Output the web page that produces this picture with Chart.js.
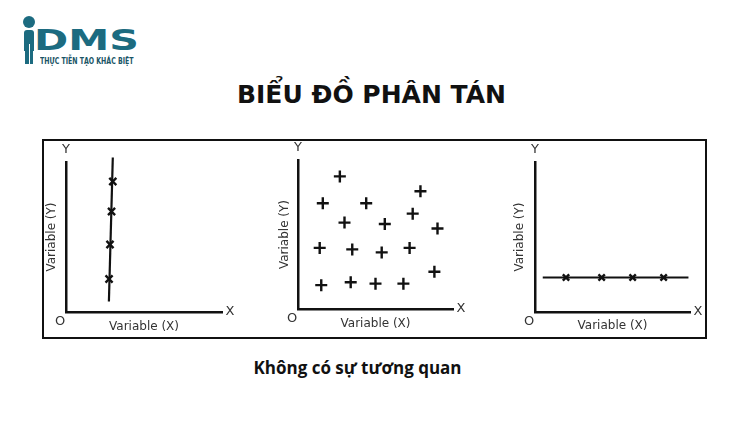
<!DOCTYPE html>
<html>
<head>
<meta charset="utf-8">
<script src="https://cdn.jsdelivr.net/npm/chart.js"></script>
<style>
body{margin:0;background:#fff;width:750px;height:421px;position:relative;overflow:hidden;}
.abs{position:absolute;}
#title{left:0;width:743px;top:82px;text-align:center;font:bold 25px/25px "DejaVu Sans";color:#111;}
#caption{left:0;width:715px;top:359px;text-align:center;font:bold 17px/17px "Open Sans";color:#111;}
#box{left:42px;top:139px;width:665px;height:200px;border:2px solid #111;box-sizing:border-box;}
canvas{position:absolute;}
.teal{background:#1c6b80;}
#dot{left:23px;top:16px;width:12px;height:12px;border-radius:50%;}
#stem{left:24px;top:30px;width:10px;height:21px;border-radius:3px 3px 0 0;}
#legs{left:25px;top:50px;width:8px;height:14px;}
#slit{left:28.5px;top:44px;width:1px;height:20px;background:#fff;}
#dms{left:34px;top:26px;font:bold 29px/29px "DejaVu Sans";color:#1c6b80;transform:scaleX(1.42);transform-origin:left top;}
#tag{left:40px;top:58px;font:bold 8px/8px "DejaVu Sans";color:#1a5566;transform:scaleX(0.78);transform-origin:left top;white-space:nowrap;}
</style>
</head>
<body>
<div id="dot" class="abs teal"></div>
<div id="stem" class="abs teal"></div>
<div id="legs" class="abs teal"></div>
<div id="slit" class="abs"></div>
<div id="dms" class="abs">DMS</div>
<div id="tag" class="abs">THỰC TIỄN TẠO KHÁC BIỆT</div>

<div id="title" class="abs">BIỂU ĐỒ PHÂN TÁN</div>
<div id="box" class="abs"></div>
<canvas id="c1" width="214" height="197" style="left:44px;top:140px"></canvas>
<canvas id="c2" width="222" height="197" style="left:262px;top:140px"></canvas>
<canvas id="c3" width="216" height="197" style="left:490px;top:140px"></canvas>
<div id="caption" class="abs">Không có sự tương quan</div>

<script>
const xTitle = "Variable (X)";
const yTitle = "Variable (Y)";
const axisLetters = ["O", "X", "Y"];

// panel 1: points stacked on a near-vertical line
const p1LineX = [3.0, 2.75];
const p1LineY = [10.3, 0.7];
const p1MarkX = [3.0, 2.92, 2.82, 2.76];
const p1MarkY = [8.7, 6.7, 4.5, 2.2];

// panel 2: scattered points
const p2X = [2.7, 7.9, 1.6, 4.4, 7.4, 3.0, 5.6, 9.0, 1.4, 3.5, 5.4, 7.2, 8.8, 1.5, 3.4, 5.0, 6.8];
const p2Y = [8.9, 7.9, 7.1, 7.1, 6.4, 5.8, 5.7, 5.4, 4.1, 4.0, 3.8, 4.1, 2.5, 1.6, 1.8, 1.7, 1.7];

// panel 3: points on a flat line
const p3LineX = [0.5, 9.9];
const p3LineY = [2.3, 2.3];
const p3MarkX = [2.0, 4.3, 6.3, 8.3];
const p3MarkY = [2.3, 2.3, 2.3, 2.3];

const ink = "#111";

function pts(xs, ys){
  return xs.map((x,i)=>({x:x, y:ys[i]}));
}

function lineSet(xs, ys){
  return {data:pts(xs,ys), showLine:true, borderColor:ink, borderWidth:2.2, pointRadius:0, clip:false};
}

function markSet(xs, ys, style, r){
  return {data:pts(xs,ys), pointStyle:style, pointRadius:r, borderColor:ink, backgroundColor:ink, pointBorderWidth:2.4, clip:false};
}

const letters = {
  id:"letters",
  afterDraw(chart){
    const a = chart.chartArea, ctx = chart.ctx;
    ctx.save();
    ctx.fillStyle = "#333";
    ctx.font = '13px "DejaVu Sans"';
    ctx.textAlign = "center";
    ctx.textBaseline = "middle";
    ctx.fillText(axisLetters[0], a.left-6, a.bottom+10);
    ctx.fillText(axisLetters[1], a.right+8, a.bottom);
    ctx.fillText(axisLetters[2], a.left, a.top-12);
    ctx.restore();
  }
};

function axis(title, pad){
  return {
    min:0, max:10,
    ticks:{display:false},
    grid:{display:false, drawTicks:false, tickLength:0},
    border:{display:true, color:ink, width:2.5},
    title:{display:true, text:title, color:"#333", font:{family:"DejaVu Sans", size:12}, padding:pad}
  };
}

function makePanel(id, datasets, p){
  new Chart(document.getElementById(id), {
    type:"scatter",
    data:{datasets:datasets},
    options:{
      responsive:false,
      animation:false,
      devicePixelRatio:1,
      layout:{padding:{top:p.top, right:p.right, left:0, bottom:0}},
      plugins:{legend:{display:false}, tooltip:{enabled:false}},
      scales:{
        x:axis(xTitle, {top:p.xt, bottom:p.xb}),
        y:axis(yTitle, {top:p.yt, bottom:p.yb})
      }
    },
    plugins:[letters]
  });
}

makePanel("c1", [lineSet(p1LineX,p1LineY), markSet(p1MarkX,p1MarkY,"crossRot",5)],
  {top:22, right:36, xt:7.8, xb:2.8, yt:0.8, yb:6.8});
makePanel("c2", [markSet(p2X,p2Y,"cross",6)],
  {top:20, right:31, xt:7.8, xb:5.8, yt:15.8, yb:5.8});
makePanel("c3", [lineSet(p3LineX,p3LineY), markSet(p3MarkX,p3MarkY,"crossRot",4.5)],
  {top:22, right:16, xt:6.5, xb:4.1, yt:22.8, yb:7.8});
</script>
</body>
</html>
